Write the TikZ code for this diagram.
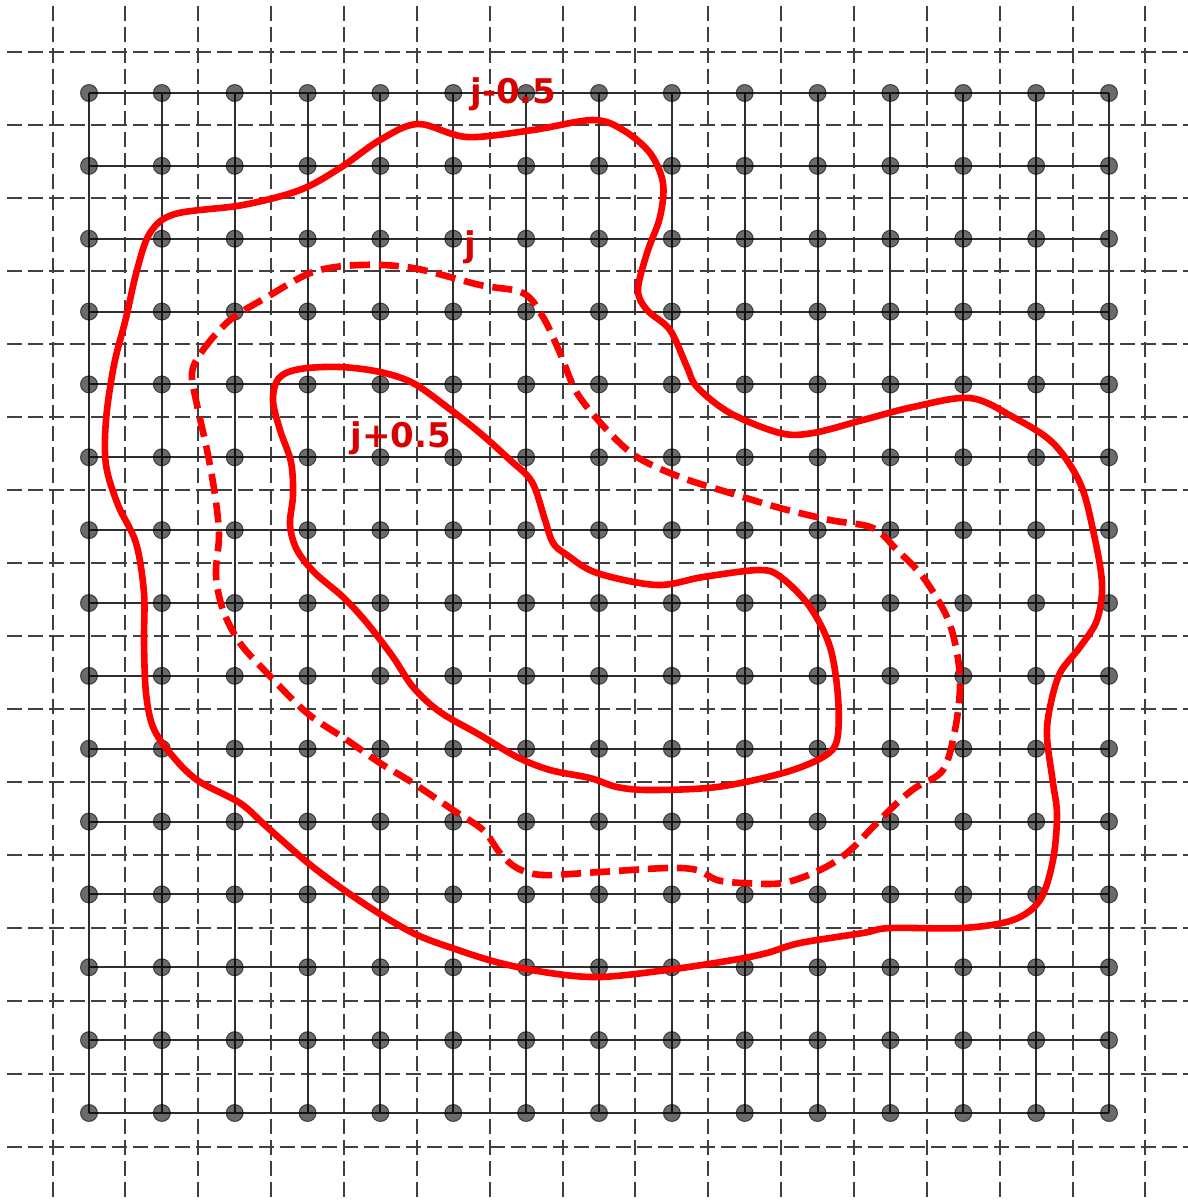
\documentclass[tikz,border=0pt]{standalone}
\usepackage{fontspec}
\newfontfamily\lblfont{DejaVu Sans}
\begin{document}
\begin{tikzpicture}[x=0.5pt,y=-0.5pt,
  gridline/.style={draw=black!82, line width=1pt},
  halfline/.style={draw=black!75, line width=1pt, dash pattern=on 7.5pt off 3pt},
  site/.style={circle, fill=black, fill opacity=0.58, draw=black, draw opacity=0.6, line width=0.5pt, minimum size=8.5pt, inner sep=0pt},
  contour/.style={draw=red, line width=3.3pt, line join=round},
  contourdash/.style={contour, dash pattern=on 10pt off 4.5pt},
  lbl/.style={text=red!85!black, font=\lblfont\bfseries\fontsize{17}{17}\selectfont, inner sep=0pt}
]
\useasboundingbox (0,0) rectangle (1188,1200);
\fill[white] (0,0) rectangle (1188,1200);
% dashed half-integer lines
\foreach \k in {0,...,15} {
  \coordinate (hl-\k) at (7,{52+73*\k});
  \coordinate (hr-\k) at (1188,{52+73*\k});
  \coordinate (vt-\k) at ({52.5+72.857*\k},6);
  \coordinate (vb-\k) at ({52.5+72.857*\k},1198);
  \draw[halfline] (hl-\k) -- (hr-\k);
  \draw[halfline] (vt-\k) -- (vb-\k);
}
% lattice sites
\foreach \i in {0,...,14} {
  \foreach \j in {0,...,14} {
    \coordinate (p-\i-\j) at ({89+72.857*\i},{93+72.857*\j});
  }
}
\foreach \k in {0,...,14} {
  \draw[gridline] (p-0-\k) -- (p-14-\k);
  \draw[gridline] (p-\k-0) -- (p-\k-14);
}
\foreach \i in {0,...,14} {
  \foreach \j in {0,...,14} {
    \node[site] (s-\i-\j) at (p-\i-\j) {};
  }
}
% outer contour j-0.5
\draw[contour] plot[smooth cycle, tension=0.55] coordinates {
 (418,124) (467,137) (533,130) (593,120) (623,130) (650,153) (663,183)
 (660,217) (647,253) (638,290) (647,310) (670,330) (687,367) (697,387)
 (730,413) (780,433) (813,433) (863,420) (913,407) (970,398) (1013,417)
 (1053,443) (1080,483) (1093,530) (1102,583) (1097,620) (1080,647)
 (1060,673) (1050,707) (1047,737) (1053,783) (1057,815) (1053,860)
 (1040,900) (1013,920) (963,928) (890,928) (863,933) (800,943) (767,953)
 (733,960) (667,970) (600,977) (550,973) (500,963) (458,950) (413,933)
 (363,903) (313,867) (267,827) (240,803) (197,780) (170,753) (153,727)
 (146,693) (144,643) (144,593) (136,543) (118,505) (106,465) (106,420)
 (114,365) (126,318) (137,270) (150,233) (175,214)
 (243,205) (300,190) (340,168) (380,140)};
% dashed contour j
\draw[contourdash] plot[smooth cycle, tension=0.55] coordinates {
 (192,373) (203,350) (230,320) (267,297) (313,272) (360,265) (413,268)
 (480,285) (523,293) (543,317) (560,353) (577,393) (607,430) (637,457)
 (680,477) (730,493) (780,508) (830,520) (873,528) (897,550) (923,577)
 (947,617) (957,653) (960,687) (955,730) (943,770) (915,788) (897,803)
 (873,827) (847,853) (820,870) (783,883) (743,883) (717,880) (697,870)
 (667,868) (600,872) (543,875) (517,868) (500,853) (483,830) (453,810)
 (413,783) (380,763) (347,740) (307,713) (267,673) (240,643) (223,610)
 (216,575) (219,535) (215,495) (207,450) (197,405)};
% inner contour j+0.5
\draw[contour] plot[smooth cycle, tension=0.55] coordinates {
 (273,400) (279,378) (300,369) (340,367) (380,372) (413,383) (447,407)
 (480,433) (510,460) (532,482) (545,520) (553,543) (567,555) (597,573)
 (657,585) (703,577) (760,570) (782,578) (810,607) (830,647) (838,697)
 (837,740) (823,757) (783,773) (717,787) (650,790) (617,787) (590,778)
 (550,770) (517,757) (480,735) (440,712) (413,687) (393,657) (367,623)
 (343,597) (315,573) (297,550) (290,525) (293,495) (291,462) (280,430)};
% labels
\node[lbl, anchor=base west] (lminus) at (470,103) {j-0.5};
\node[lbl, anchor=base west] (lmid) at (464,256) {j};
\node[lbl, anchor=base west] (lplus) at (350,447) {j+0.5};
\end{tikzpicture}
\end{document}
